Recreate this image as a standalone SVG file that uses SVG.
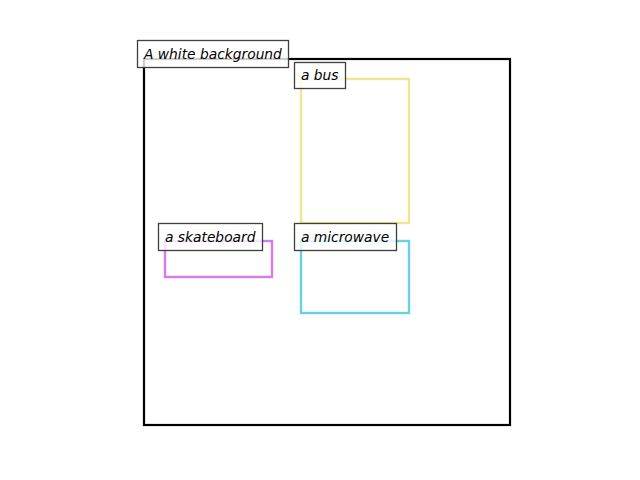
<svg xmlns="http://www.w3.org/2000/svg" width="640" height="480" viewBox="0 0 640 480">
<style>
.lbl rect{fill:#ffffff;fill-opacity:0.8;stroke:#3f3f3f;stroke-width:1.3}
.lbl text{font-family:"DejaVu Sans",sans-serif;font-style:oblique;font-size:13.8px;fill:#000}
.box{fill:none;stroke-width:2.4}
</style>
<rect x="0" y="0" width="640" height="480" fill="#ffffff"/>
<g id="background">
<rect x="144" y="59" width="366" height="366" fill="#ffffff" stroke="#000000" stroke-width="2.2"/>
</g>
<g id="bus">
<rect class="box" x="301" y="79" width="108" height="144" stroke="#f0e68c"/>
</g>
<g id="skateboard">
<rect class="box" x="165" y="241" width="107" height="36" stroke="#d57bf0"/>
</g>
<g id="microwave">
<rect class="box" x="301" y="241" width="108" height="72" stroke="#6ad0de"/>
</g>
<g id="connectors"></g>
<g id="label-background" class="lbl">
<rect x="137.5" y="40.5" width="151" height="27"/>
<text x="144" y="59">A white background</text>
</g>
<g id="label-bus" class="lbl">
<rect x="294.5" y="62.5" width="51" height="26"/>
<text x="301" y="80">a bus</text>
</g>
<g id="label-skateboard" class="lbl">
<rect x="158.5" y="223.5" width="104" height="27"/>
<text x="165" y="242">a skateboard</text>
</g>
<g id="label-microwave" class="lbl">
<rect x="294.5" y="223.5" width="102" height="27"/>
<text x="301" y="242">a microwave</text>
</g>
</svg>
